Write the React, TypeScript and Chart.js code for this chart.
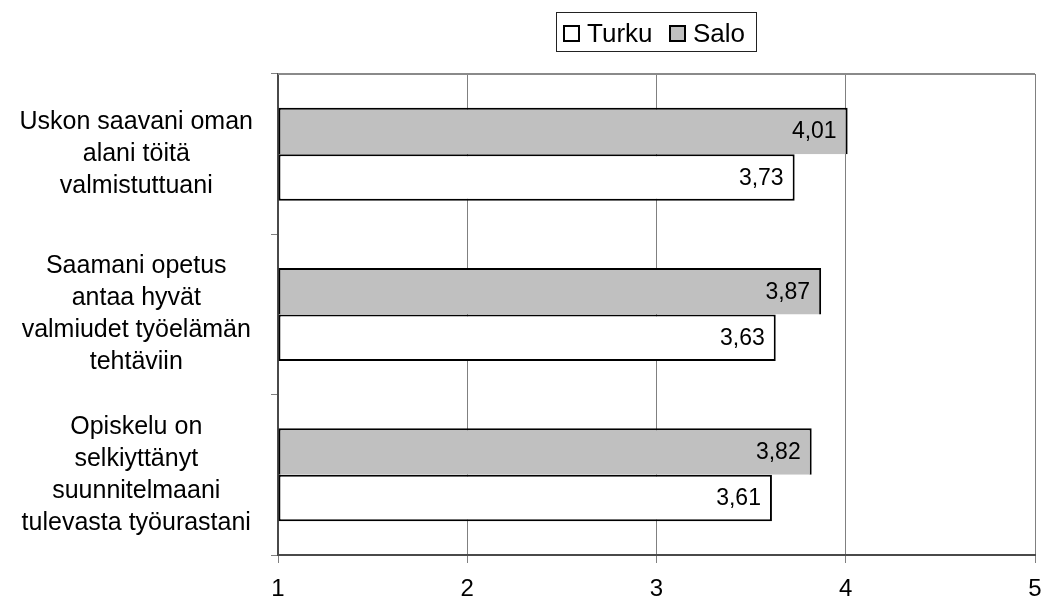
import React, { useEffect, useRef } from "react";
import { Chart, registerables } from "chart.js";

Chart.register(...registerables);

const categories: string[][] = [
  ["Uskon saavani oman", "alani töitä", "valmistuttuani"],
  ["Saamani opetus", "antaa hyvät", "valmiudet työelämän", "tehtäviin"],
  ["Opiskelu on", "selkiyttänyt", "suunnitelmaani", "tulevasta työurastani"],
];
const seriesNames = ["Turku", "Salo"];
const turkuValues = [3.73, 3.63, 3.61];
const saloValues = [4.01, 3.87, 3.82];
const xTicks = [1, 2, 3, 4, 5];

const FONT = "'Liberation Sans', Arial, Helvetica, sans-serif";

const fmt = (v: number) => v.toFixed(2).replace(".", ",");

const topBorderPlugin = {
  id: "topBorder",
  afterDraw(chart: any) {
    const { ctx, chartArea } = chart;
    ctx.save();
    ctx.strokeStyle = "#8a8a8a";
    ctx.lineWidth = 2;
    ctx.beginPath();
    ctx.moveTo(chartArea.left, chartArea.top);
    ctx.lineTo(chartArea.right, chartArea.top);
    ctx.stroke();
    ctx.restore();
  },
};

const valueLabelPlugin = {
  id: "valueLabels",
  afterDatasetsDraw(chart: any) {
    const { ctx } = chart;
    ctx.save();
    ctx.font = `23px ${FONT}`;
    ctx.fillStyle = "#000";
    ctx.textAlign = "right";
    ctx.textBaseline = "middle";
    chart.data.datasets.forEach((ds: any, di: number) => {
      const meta = chart.getDatasetMeta(di);
      meta.data.forEach((bar: any, i: number) => {
        ctx.fillText(fmt(ds.data[i]), bar.x - 11, bar.y + 1);
      });
    });
    ctx.restore();
  },
};

export default function App() {
  const canvasRef = useRef<HTMLCanvasElement | null>(null);

  useEffect(() => {
    if (!canvasRef.current) return;
    const chart = new Chart(canvasRef.current, {
      type: "bar",
      data: {
        labels: categories,
        datasets: [
          {
            label: seriesNames[1],
            data: saloValues,
            base: 1,
            backgroundColor: "#c0c0c0",
            borderColor: "#000",
            borderWidth: 2,
            borderSkipped: "bottom",
            categoryPercentage: 0.58,
            barPercentage: 1,
          } as any,
          {
            label: seriesNames[0],
            data: turkuValues,
            base: 1,
            backgroundColor: "#ffffff",
            borderColor: "#000",
            borderWidth: 2,
            borderSkipped: false,
            categoryPercentage: 0.58,
            barPercentage: 1,
          } as any,
        ],
      },
      options: {
        indexAxis: "y",
        animation: false,
        responsive: true,
        maintainAspectRatio: false,
        layout: { padding: { top: 74, right: 8, left: 0, bottom: 0 } },
        plugins: {
          legend: { display: false },
          tooltip: { enabled: false },
        },
        scales: {
          x: {
            type: "linear",
            min: xTicks[0],
            max: xTicks[xTicks.length - 1],
            afterBuildTicks: (scale: any) => {
              scale.ticks = xTicks.map((v) => ({ value: v }));
            },
            ticks: {
              font: { family: FONT, size: 24 },
              color: "#000",
              padding: 12,
              callback: (v: any) => String(v),
            },
            grid: {
              color: "#808080",
              lineWidth: 1,
              tickLength: 8,
              drawTicks: true,
            },
            border: { display: true, color: "#4a4a4a", width: 2 },
            afterFit: (scale: any) => {
              scale.height = 48;
              scale.paddingLeft = 0;
              scale.paddingRight = 0;
            },
          },
          y: {
            type: "category",
            offset: true,
            ticks: {
              font: { family: FONT, size: 25, lineHeight: "32px" } as any,
              color: "#000",
              crossAlign: "center",
              padding: 18,
            },
            grid: {
              offset: true,
              drawOnChartArea: false,
              drawTicks: true,
              tickLength: 7,
              color: "#808080",
              lineWidth: 1,
            },
            border: { display: true, color: "#4a4a4a", width: 2 },
            afterFit: (scale: any) => {
              scale.width = 278;
              scale.paddingTop = 0;
              scale.paddingBottom = 0;
            },
          },
        },
      },
      plugins: [topBorderPlugin, valueLabelPlugin],
    } as any);
    return () => chart.destroy();
  }, []);

  const legendText: React.CSSProperties = {
    position: "absolute",
    top: 0,
    height: 40,
    lineHeight: "40px",
    fontFamily: FONT,
    fontSize: 26,
    color: "#000",
    whiteSpace: "nowrap",
  };
  const square = (bg: string, left: number): React.CSSProperties => ({
    position: "absolute",
    left,
    top: 12,
    width: 17,
    height: 17,
    boxSizing: "border-box",
    border: "2px solid #000",
    background: bg,
  });

  return (
    <div style={{ position: "absolute", left: 0, top: 0, width: 1043, height: 603, background: "#fff" }}>
      <canvas ref={canvasRef} />
      <div
        style={{
          position: "absolute",
          left: 556,
          top: 12,
          width: 199,
          height: 38,
          border: "1px solid #222",
          background: "#fff",
        }}
      >
        <div style={square("#ffffff", 6)} />
        <div style={{ ...legendText, left: 30 }}>{seriesNames[0]}</div>
        <div style={square("#c0c0c0", 112)} />
        <div style={{ ...legendText, left: 136 }}>{seriesNames[1]}</div>
      </div>
    </div>
  );
}
